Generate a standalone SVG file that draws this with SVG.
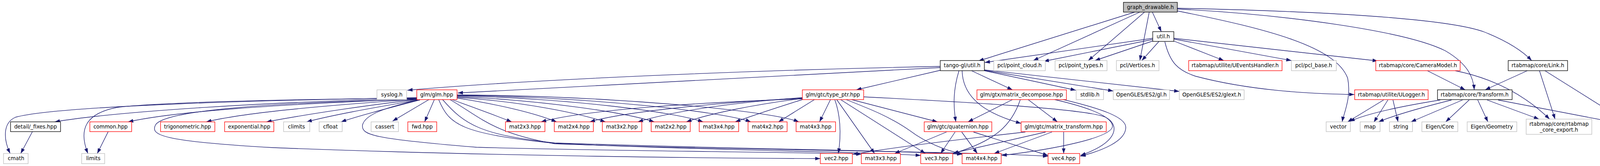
<svg xmlns="http://www.w3.org/2000/svg" width="4275" height="425" viewBox="0 0 4275 425">
<style>
.node rect{fill:#fff;stroke-width:1.33}
.root rect{fill:#bfbfbf;stroke:#000}
.doc rect{stroke:#000}
.red rect{stroke:#ff0000}
.ext rect{stroke:#bfbfbf}
text{font-family:"DejaVu Sans","Liberation Sans",sans-serif;font-size:13.33px;fill:#000;text-anchor:middle}
#edges path{fill:none;stroke:#191970;stroke-width:1.33;marker-end:url(#a)}
</style>
<defs>
<marker id="a" viewBox="0 0 10 7" refX="10" refY="3.5" markerWidth="13.3" markerHeight="9.3" markerUnits="userSpaceOnUse" orient="auto">
<path d="M0,0L10,3.5L0,7z" fill="#191970"/>
</marker>
</defs>
<rect width="4275" height="425" fill="#fff"/>
<g id="edges">
<path d="M2905,31 L2505,156"/>
<path d="M2918,31 L2645,155"/>
<path d="M2930,31 L2786,155"/>
<path d="M2942,31 L2918,155"/>
<path d="M2950,31 L2973,81"/>
<path d="M3014,21 C3350,28 3700,45 3800,82 C3855,104 3895,128 3921,155"/>
<path d="M3014,23 C3300,38 3600,80 3700,130 C3760,165 3772,200 3774,230"/>
<path d="M3014,28 C3250,75 3420,120 3450,200 C3460,250 3440,290 3436,312"/>
<path d="M2951,98 L2521,160"/>
<path d="M2951,101 L2672,157"/>
<path d="M2951,105 L2803,155"/>
<path d="M2967,106 L2923,155"/>
<path d="M3005,105 L3133,155"/>
<path d="M3005,100 L3306,155"/>
<path d="M3005,98 L3527,156"/>
<path d="M2982,107 C2995,160 3015,180 3060,195 C3200,232 3350,240 3467,242"/>
<path d="M2407,170 C2000,178 1400,200 1043,231"/>
<path d="M2407,173 L1172,238"/>
<path d="M2407,180 L2192,230"/>
<path d="M2455,181 C2440,230 2440,270 2447,312"/>
<path d="M2463,181 C2465,260 2540,295 2614,316"/>
<path d="M2487,181 L2592,230"/>
<path d="M2520,181 L2754,231"/>
<path d="M2520,180 L2850,233"/>
<path d="M2520,179 L3019,234"/>
<path d="M1067,252 C700,260 300,285 140,312"/>
<path d="M1067,250 C700,256 150,270 40,300 C5,315 10,360 26,393"/>
<path d="M1067,251 C700,255 400,262 300,275 C220,290 200,330 225,393"/>
<path d="M1067,253 C700,268 450,285 328,312"/>
<path d="M1067,254 C800,272 620,290 528,312"/>
<path d="M1067,255 C950,268 800,290 682,312"/>
<path d="M1070,256 C980,272 860,292 785,312"/>
<path d="M1075,256 C990,278 920,296 873,312"/>
<path d="M1098,255 L1005,310"/>
<path d="M1112,255 L1087,312"/>
<path d="M1157,255 C1220,278 1270,296 1310,312"/>
<path d="M1170,251 C1280,268 1370,290 1425,312"/>
<path d="M1170,249 C1350,262 1480,290 1550,312"/>
<path d="M1170,247 C1400,258 1600,288 1675,312"/>
<path d="M1170,245 C1450,252 1720,285 1800,312"/>
<path d="M1170,244 C1500,248 1850,285 1922,312"/>
<path d="M1170,243 C1550,245 1970,282 2045,312"/>
<path d="M1067,255 C700,262 420,282 398,320 C385,345 410,362 700,378 C1200,398 1800,405 2100,406"/>
<path d="M1067,257 C990,275 935,292 928,320 C925,345 950,355 1220,377 C1600,388 2000,388 2205,395"/>
<path d="M1123,255 C1150,320 1180,342 1420,367 C1800,385 2200,388 2357,398"/>
<path d="M1133,255 C1190,320 1230,345 1420,366 C1900,382 2300,385 2463,395"/>
<path d="M1152,255 C1230,300 1260,340 1420,368 C1900,386 2400,385 2683,400"/>
<path d="M83,337 L53,393"/>
<path d="M277,337 L249,393"/>
<path d="M2054,253 C1800,262 1500,280 1385,312"/>
<path d="M2054,251 C1850,262 1600,285 1510,312"/>
<path d="M2054,250 C1880,262 1720,285 1633,312"/>
<path d="M2054,252 C1930,268 1820,290 1757,312"/>
<path d="M2054,255 C1990,275 1930,295 1882,312"/>
<path d="M2085,255 L1993,312"/>
<path d="M2126,255 L2098,312"/>
<path d="M2137,255 C2150,290 2155,340 2146,393"/>
<path d="M2142,255 L2239,393"/>
<path d="M2152,255 L2369,393"/>
<path d="M2166,255 C2230,280 2280,300 2330,335 C2370,365 2420,385 2463,394"/>
<path d="M2180,255 L2400,312"/>
<path d="M2211,248 C2450,260 2780,278 2830,300 C2865,318 2868,362 2766,398"/>
<path d="M2592,255 L2478,312"/>
<path d="M2612,255 C2590,320 2550,360 2440,393"/>
<path d="M2632,255 L2707,312"/>
<path d="M2700,255 C2800,278 2845,300 2848,322 C2850,352 2700,382 2564,398"/>
<path d="M2718,254 C2820,278 2882,300 2882,326 C2882,362 2820,386 2766,400"/>
<path d="M2423,338 L2290,393"/>
<path d="M2445,338 L2408,393"/>
<path d="M2462,338 L2502,393"/>
<path d="M2492,338 L2683,398"/>
<path d="M2625,338 C2500,352 2300,375 2183,395"/>
<path d="M2677,338 L2440,392"/>
<path d="M2693,338 L2545,393"/>
<path d="M2723,338 L2723,393"/>
<path d="M3542,256 L3450,312"/>
<path d="M3553,256 L3517,313"/>
<path d="M3566,256 L3579,312"/>
<path d="M3687,256 C3600,270 3500,290 3455,311"/>
<path d="M3716,256 C3640,275 3570,295 3529,312"/>
<path d="M3744,256 L3612,312"/>
<path d="M3761,256 L3701,312"/>
<path d="M3783,256 L3809,312"/>
<path d="M3807,256 L3940,305"/>
<path d="M3835,256 L4127,312"/>
<path d="M3654,181 L3751,230"/>
<path d="M3725,181 C3820,200 3900,240 3967,305"/>
<path d="M3910,181 L3802,230"/>
<path d="M3941,181 L3981,305"/>
<path d="M3955,181 L4164,312"/>
</g>
<g id="graph_drawable" class="node root"><rect x="2876" y="6" width="138" height="25"/><text x="2945" y="23">graph_drawable.h</text></g>
<g id="util_h" class="node doc"><rect x="2951" y="81" width="54" height="25"/><text x="2978" y="98">util.h</text></g>
<g id="tango_util" class="node doc"><rect x="2407" y="155" width="113" height="26"/><text x="2463" y="172">tango-gl/util.h</text></g>
<g id="point_cloud" class="node ext"><rect x="2544" y="155" width="132" height="26"/><text x="2610" y="172">pcl/point_cloud.h</text></g>
<g id="point_types" class="node ext"><rect x="2701" y="155" width="133" height="26"/><text x="2767" y="172">pcl/point_types.h</text></g>
<g id="vertices" class="node ext"><rect x="2858" y="155" width="109" height="26"/><text x="2912" y="172">pcl/Vertices.h</text></g>
<g id="uevents" class="node red"><rect x="3043" y="155" width="239" height="26"/><text x="3162" y="172">rtabmap/utilite/UEventsHandler.h</text></g>
<g id="pcl_base" class="node ext"><rect x="3306" y="155" width="115" height="26"/><text x="3363" y="172">pcl/pcl_base.h</text></g>
<g id="camera_model" class="node red"><rect x="3522" y="155" width="216" height="26"/><text x="3630" y="172">rtabmap/core/CameraModel.h</text></g>
<g id="link" class="node doc"><rect x="3861" y="155" width="152" height="26"/><text x="3937" y="172">rtabmap/core/Link.h</text></g>
<g id="syslog" class="node ext"><rect x="965" y="230" width="76" height="25"/><text x="1003" y="247">syslog.h</text></g>
<g id="glm" class="node red"><rect x="1067" y="230" width="103" height="25"/><text x="1118" y="247">glm/glm.hpp</text></g>
<g id="type_ptr" class="node red"><rect x="2054" y="230" width="157" height="25"/><text x="2132" y="247">glm/gtc/type_ptr.hpp</text></g>
<g id="decompose" class="node red"><rect x="2501" y="230" width="229" height="25"/><text x="2615" y="247">glm/gtx/matrix_decompose.hpp</text></g>
<g id="stdlib" class="node ext"><rect x="2755" y="230" width="70" height="25"/><text x="2790" y="247">stdlib.h</text></g>
<g id="gl_h" class="node ext"><rect x="2850" y="230" width="144" height="25"/><text x="2922" y="247">OpenGLES/ES2/gl.h</text></g>
<g id="glext" class="node ext"><rect x="3019" y="230" width="166" height="25"/><text x="3102" y="247">OpenGLES/ES2/glext.h</text></g>
<g id="ulogger" class="node red"><rect x="3468" y="230" width="188" height="25"/><text x="3562" y="247">rtabmap/utilite/ULogger.h</text></g>
<g id="transform" class="node doc"><rect x="3680" y="230" width="191" height="25"/><text x="3775" y="247">rtabmap/core/Transform.h</text></g>
<g id="fixes" class="node doc"><rect x="27" y="312" width="128" height="25"/><text x="91" y="329">detail/_fixes.hpp</text></g>
<g id="common" class="node red"><rect x="230" y="312" width="107" height="25"/><text x="283" y="329">common.hpp</text></g>
<g id="trig" class="node red"><rect x="411" y="312" width="139" height="25"/><text x="480" y="329">trigonometric.hpp</text></g>
<g id="expo" class="node red"><rect x="575" y="312" width="126" height="25"/><text x="638" y="329">exponential.hpp</text></g>
<g id="climits" class="node ext"><rect x="726" y="312" width="67" height="25"/><text x="759" y="329">climits</text></g>
<g id="cfloat" class="node ext"><rect x="817" y="312" width="59" height="25"/><text x="846" y="329">cfloat</text></g>
<g id="cassert" class="node ext"><rect x="950" y="312" width="70" height="25"/><text x="985" y="329">cassert</text></g>
<g id="fwd" class="node red"><rect x="1044" y="312" width="74" height="25"/><text x="1081" y="329">fwd.hpp</text></g>
<g id="mat2x3" class="node red"><rect x="1294" y="312" width="101" height="25"/><text x="1344" y="329">mat2x3.hpp</text></g>
<g id="mat2x4" class="node red"><rect x="1419" y="312" width="100" height="25"/><text x="1469" y="329">mat2x4.hpp</text></g>
<g id="mat3x2" class="node red"><rect x="1542" y="312" width="101" height="25"/><text x="1592" y="329">mat3x2.hpp</text></g>
<g id="mat2x2" class="node red"><rect x="1667" y="312" width="100" height="25"/><text x="1717" y="329">mat2x2.hpp</text></g>
<g id="mat3x4" class="node red"><rect x="1790" y="312" width="101" height="25"/><text x="1840" y="329">mat3x4.hpp</text></g>
<g id="mat4x2" class="node red"><rect x="1915" y="312" width="100" height="25"/><text x="1965" y="329">mat4x2.hpp</text></g>
<g id="mat4x3" class="node red"><rect x="2038" y="312" width="101" height="25"/><text x="2088" y="329">mat4x3.hpp</text></g>
<g id="quaternion" class="node red"><rect x="2366" y="312" width="173" height="25"/><text x="2452" y="329">glm/gtc/quaternion.hpp</text></g>
<g id="matrix_transform" class="node red"><rect x="2614" y="312" width="218" height="25"/><text x="2723" y="329">glm/gtc/matrix_transform.hpp</text></g>
<g id="vector" class="node ext"><rect x="3395" y="312" width="62" height="25"/><text x="3426" y="329">vector</text></g>
<g id="map" class="node ext"><rect x="3482" y="312" width="51" height="25"/><text x="3507" y="329">map</text></g>
<g id="string" class="node ext"><rect x="3557" y="312" width="59" height="25"/><text x="3586" y="329">string</text></g>
<g id="eigen_core" class="node ext"><rect x="3640" y="312" width="92" height="25"/><text x="3686" y="329">Eigen/Core</text></g>
<g id="eigen_geometry" class="node ext"><rect x="3756" y="312" width="127" height="25"/><text x="3819" y="329">Eigen/Geometry</text></g>
<g id="core_export" class="node ext"><rect x="3907" y="305" width="168" height="39"/><text x="3991" y="322">rtabmap/core/rtabmap</text><text x="3991" y="337">_core_export.h</text></g>
<g id="opencv" class="node ext"><rect x="4100" y="312" width="169" height="25"/><text x="4184" y="329">opencv2/core/core.hpp</text></g>
<g id="cmath" class="node ext"><rect x="9" y="393" width="63" height="26"/><text x="41" y="410">cmath</text></g>
<g id="limits" class="node ext"><rect x="209" y="393" width="59" height="26"/><text x="239" y="410">limits</text></g>
<g id="vec2" class="node red"><rect x="2100" y="393" width="82" height="26"/><text x="2141" y="410">vec2.hpp</text></g>
<g id="mat3x3" class="node red"><rect x="2205" y="393" width="100" height="26"/><text x="2255" y="410">mat3x3.hpp</text></g>
<g id="vec3" class="node red"><rect x="2357" y="393" width="82" height="26"/><text x="2398" y="410">vec3.hpp</text></g>
<g id="mat4x4" class="node red"><rect x="2463" y="393" width="100" height="26"/><text x="2513" y="410">mat4x4.hpp</text></g>
<g id="vec4" class="node red"><rect x="2683" y="393" width="81" height="26"/><text x="2723" y="410">vec4.hpp</text></g>
</svg>
